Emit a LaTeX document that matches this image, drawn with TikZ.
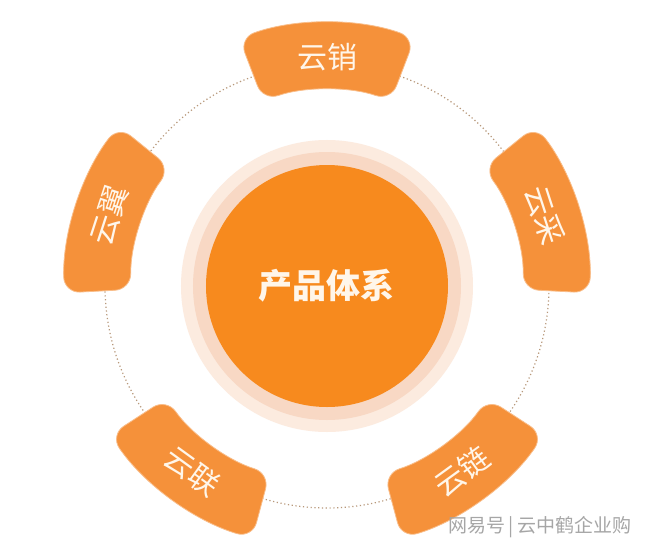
\documentclass[tikz,border=0pt]{standalone}
\usepackage{fontspec}
\newfontfamily\cjk{Noto Sans CJK SC}
\definecolor{bandorange}{HTML}{F5913A}
\definecolor{coreorange}{HTML}{F78A1E}
\definecolor{haloA}{HTML}{FCEBDF}
\definecolor{haloB}{HTML}{F8D8C4}
\definecolor{dotc}{HTML}{B8987A}
\definecolor{txtc}{HTML}{FFF6EA}
\tikzset{
  bandtext/.style={text=txtc, font=\cjk\fontsize{30}{30}\selectfont, inner sep=0pt},
  bandfill/.style={fill=bandorange, draw=bandorange!60!white, line width=0.8pt, rounded corners=16pt},
}
\newcommand{\bandshape}[1]{%
  \path[bandfill] (#1-19:196) arc[start angle=#1-19, end angle=#1+19, radius=196]
    -- (#1+19.5:263) arc[start angle=#1+19.5, end angle=#1-19.5, radius=263] -- cycle;}
\begin{document}
\begin{tikzpicture}[x=1pt,y=1pt]
\path[use as bounding box, fill=white] (-327,-263) rectangle (323,286);
\draw[dotc, line width=1.2pt, dash pattern=on 1.2pt off 2.6pt] (0,0) circle[radius=222];
\fill[haloA] (0,0) circle[radius=146];
\fill[haloB] (0,0) circle[radius=134];
\node[circle, fill=coreorange, minimum size=242pt, inner sep=0pt,
  text=txtc, font=\cjk\bfseries\fontsize{34}{34}\selectfont] (core) at (0,0) {产品体系};
\bandshape{90}
\bandshape{18}
\bandshape{-54}
\bandshape{-126}
\bandshape{162}
\node[bandtext, rotate=0] (xiao) at (90:229) {云销};
\node[bandtext, rotate=-72] (cai) at (18:229) {云采};
\node[bandtext, rotate=36] (lian) at (-54:229) {云链};
\node[bandtext, rotate=-36] (lianb) at (-126:229) {云联};
\node[bandtext, rotate=72] (yi) at (162:229) {云翼};
\node[text=gray!70, font=\cjk\fontsize{19}{19}\selectfont, inner sep=0pt] (wm) at (213,-241) {网易号\,|\,云中鹤企业购};
\end{tikzpicture}
\end{document}
